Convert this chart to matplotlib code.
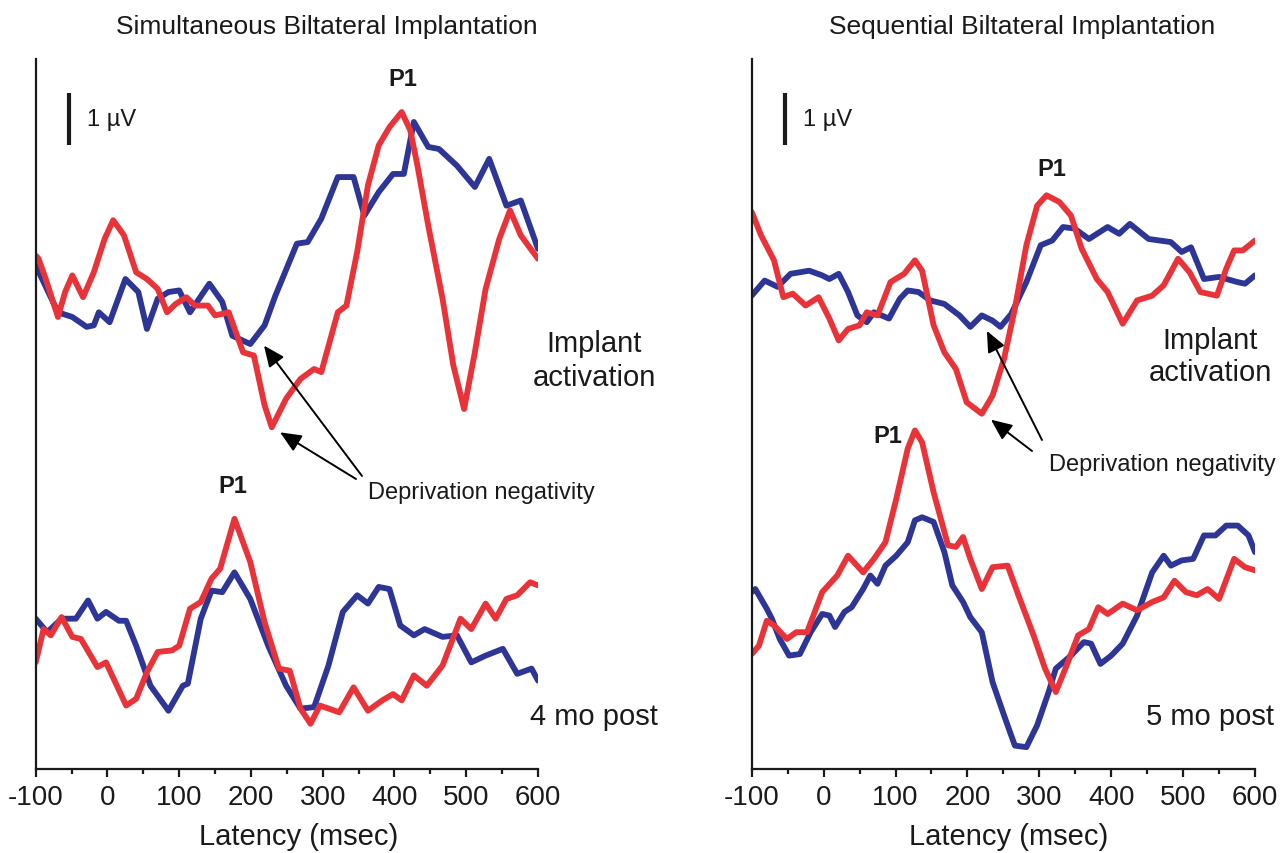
import numpy as np
import matplotlib.pyplot as plt

plt.rcParams['font.family'] = ['Liberation Sans', 'DejaVu Sans']
plt.rcParams['axes.unicode_minus'] = False

RED = "#e93339"
BLUE = "#2d3597"
INK = "#1a1a1a"

# ---------- data (latency in ms, amplitude in uV relative to each trace's baseline) ----------
# Simultaneous, implant activation
sim_act_blue_t = [-100, -69, -49, -29, -19, -12, 3, 25, 43, 55, 70, 85, 100, 115, 142, 160, 174, 199, 219, 234,
                  264, 279, 298, 321, 343, 358, 378, 398, 413, 427, 447, 462, 487, 512, 532, 556, 576, 600]
sim_act_blue_v = [0.64, -0.26, -0.35, -0.54, -0.51, -0.26, -0.45, 0.38, 0.13, -0.58, 0.0, 0.13, 0.16, -0.26, 0.29,
                  -0.06, -0.71, -0.87, -0.51, 0.06, 1.06, 1.09, 1.54, 2.34, 2.34, 1.60, 2.05, 2.40, 2.40, 3.40,
                  2.92, 2.88, 2.56, 2.15, 2.69, 1.79, 1.89, 0.96]
sim_act_red_t = [-100, -96, -86, -69, -59, -49, -34, -19, -4, 8, 23, 40, 55, 70, 83, 95, 110, 122, 140, 150, 169,
                 189, 204, 219, 229, 249, 269, 288, 298, 321, 333, 348, 363, 378, 393, 410, 422, 432, 447, 467,
                 482, 497, 512, 527, 546, 561, 576, 586, 600]
sim_act_red_v = [0.83, 0.77, 0.38, -0.35, 0.13, 0.45, 0.03, 0.51, 1.15, 1.51, 1.22, 0.51, 0.38, 0.19, -0.26, -0.10,
                 0.03, -0.13, -0.13, -0.32, -0.26, -1.03, -1.09, -2.05, -2.47, -1.92, -1.54, -1.35, -1.41, -0.26,
                 -0.13, 0.90, 2.18, 2.95, 3.30, 3.59, 3.24, 2.56, 1.41, 0.0, -1.28, -2.12, -1.03, 0.19, 1.15,
                 1.70, 1.22, 1.03, 0.77]

# Simultaneous, 4 mo post
sim_post_blue_t = [-100, -84, -64, -44, -27, -14, -2, 16, 26, 40, 60, 85, 105, 112, 130, 145, 160, 177, 199, 224,
                   249, 269, 288, 308, 328, 348, 363, 378, 393, 408, 427, 442, 467, 487, 507, 527, 551, 571, 591, 600]
sim_post_blue_v = [0.58, 0.32, 0.58, 0.58, 0.93, 0.58, 0.71, 0.54, 0.54, 0.06, -0.71, -1.19, -0.71, -0.67, 0.58,
                   1.12, 1.09, 1.47, 0.96, 0.06, -0.71, -1.15, -1.12, -0.32, 0.71, 1.03, 0.87, 1.19, 1.15, 0.45,
                   0.26, 0.38, 0.23, 0.26, -0.26, -0.13, 0.0, -0.48, -0.38, -0.61]
sim_post_red_t = [-100, -89, -79, -64, -49, -37, -14, -2, 26, 40, 55, 70, 90, 100, 115, 130, 145, 157, 177, 199,
                  219, 239, 254, 269, 283, 296, 323, 343, 363, 383, 398, 410, 427, 445, 467, 492, 507, 527, 541,
                  556, 571, 589, 600]
sim_post_red_v = [-0.26, 0.38, 0.26, 0.61, 0.23, 0.19, -0.35, -0.26, -1.09, -0.96, -0.45, -0.06, -0.03, 0.06, 0.77,
                  0.90, 1.35, 1.54, 2.50, 1.67, 0.51, -0.38, -0.42, -1.15, -1.44, -1.09, -1.22, -0.74, -1.19,
                  -0.99, -0.87, -0.99, -0.51, -0.71, -0.32, 0.58, 0.38, 0.87, 0.58, 0.96, 1.03, 1.28, 1.22]

# Sequential, implant activation
seq_act_blue_t = [-100, -82, -64, -46, -20, -2, 8, 21, 34, 47, 60, 70, 91, 106, 117, 132, 148, 168, 189, 204, 220,
                  235, 246, 261, 282, 302, 318, 333, 349, 369, 395, 411, 426, 452, 483, 498, 511, 529, 550, 576,
                  586, 600]
seq_act_blue_v = [0.06, 0.35, 0.23, 0.48, 0.54, 0.45, 0.38, 0.48, 0.13, -0.32, -0.45, -0.26, -0.38, 0.0, 0.16, 0.13,
                  -0.03, -0.10, -0.32, -0.54, -0.32, -0.42, -0.54, -0.29, 0.32, 1.03, 1.12, 1.38, 1.35, 1.15,
                  1.38, 1.25, 1.44, 1.15, 1.09, 0.90, 0.99, 0.38, 0.42, 0.32, 0.29, 0.45]
seq_act_red_t = [-100, -87, -69, -56, -43, -25, -7, 8, 21, 34, 50, 60, 75, 93, 112, 127, 137, 153, 168, 184, 199,
                 220, 235, 251, 266, 282, 297, 310, 328, 344, 359, 380, 395, 416, 436, 457, 473, 493, 509, 524,
                 547, 560, 571, 583, 600]
seq_act_red_v = [1.67, 1.22, 0.74, 0.03, 0.10, -0.13, 0.03, -0.38, -0.80, -0.58, -0.51, -0.26, -0.32, 0.32, 0.48,
                 0.74, 0.54, -0.51, -1.03, -1.35, -1.99, -2.21, -1.86, -1.15, -0.19, 1.03, 1.79, 1.99, 1.86,
                 1.60, 0.96, 0.38, 0.13, -0.48, -0.03, 0.06, 0.26, 0.77, 0.51, 0.13, 0.06, 0.58, 0.93, 0.93, 1.12]

# Sequential, 5 mo post
seq_post_blue_t = [-100, -95, -79, -72, -61, -48, -33, -18, -2, 8, 16, 29, 39, 55, 65, 75, 86, 101, 117, 127, 137,
                   153, 168, 179, 194, 204, 220, 235, 251, 266, 282, 297, 313, 323, 344, 362, 372, 385, 400, 416,
                   436, 457, 473, 483, 498, 514, 529, 545, 560, 576, 591, 600]
seq_post_blue_v = [1.09, 1.15, 0.77, 0.58, 0.19, -0.13, -0.10, 0.32, 0.67, 0.64, 0.42, 0.71, 0.80, 1.15, 1.41, 1.25,
                   1.60, 1.79, 2.05, 2.47, 2.53, 2.44, 1.86, 1.22, 0.90, 0.61, 0.32, -0.64, -1.28, -1.86, -1.89,
                   -1.47, -0.83, -0.38, -0.13, 0.13, 0.10, -0.29, -0.13, 0.10, 0.64, 1.47, 1.79, 1.60, 1.70, 1.73,
                   2.18, 2.18, 2.37, 2.37, 2.18, 1.86]
seq_post_red_t = [-100, -90, -79, -69, -51, -38, -23, -2, 19, 34, 55, 70, 86, 101, 117, 127, 137, 153, 173, 184,
                  194, 204, 220, 235, 256, 271, 292, 308, 323, 338, 354, 369, 382, 395, 416, 436, 457, 473, 488,
                  504, 519, 534, 550, 571, 586, 600]
seq_post_red_v = [-0.10, 0.06, 0.54, 0.45, 0.19, 0.32, 0.32, 1.09, 1.41, 1.79, 1.47, 1.73, 2.05, 2.88, 3.85, 4.20,
                  3.97, 3.01, 1.99, 1.96, 2.15, 1.73, 1.15, 1.57, 1.60, 1.03, 0.26, -0.38, -0.83, -0.32, 0.26,
                  0.38, 0.80, 0.67, 0.87, 0.74, 0.90, 0.99, 1.31, 1.09, 1.03, 1.15, 0.96, 1.73, 1.57, 1.51]

xticks = [-100, 0, 100, 200, 300, 400, 500, 600]

# vertical placement of the two trace pairs (uV above the x axis)
TOP_BASE = 9.04
BOT_BASE = 2.31
YMAX = 13.65

W, H = 1282, 854
fig = plt.figure(figsize=(W / 100, H / 100), dpi=100)


def fx(px):
    return px / W


def fy(py):
    return 1 - py / H


def trace(ax, t, v, base, color):
    ax.plot(t, np.array(v) + base, color=color, lw=4.2,
            solid_joinstyle="round", solid_capstyle="round")


def panel(left_px, width_px, title, title_x, act, post, label_x, act_y, act_spacing, post_label,
          p1_top, p1_bot, dep_xy, dep_targets, xlabel_x):
    ax = fig.add_axes([fx(left_px), fy(770), width_px / W, 710 / H])
    ax.set_xlim(-100, 600)
    ax.set_ylim(0, YMAX)
    (bt, bv), (rt, rv) = act
    trace(ax, bt, bv, TOP_BASE, BLUE)
    trace(ax, rt, rv, TOP_BASE, RED)
    (bt, bv), (rt, rv) = post
    trace(ax, bt, bv, BOT_BASE, BLUE)
    trace(ax, rt, rv, BOT_BASE, RED)

    for s in ["top", "right"]:
        ax.spines[s].set_visible(False)
    ax.spines["left"].set_linewidth(1.6)
    ax.spines["bottom"].set_linewidth(1.6)
    ax.spines["left"].set_color(INK)
    ax.spines["bottom"].set_color(INK)
    ax.set_yticks([])
    ax.set_xticks(xticks)
    ax.set_xticks([-50, 50, 150, 250, 350, 450, 550], minor=True)
    ax.tick_params(axis="x", which="major", direction="out", length=6, width=1.6, labelsize=20, pad=5,
                   colors=INK)
    ax.tick_params(axis="x", which="minor", direction="out", length=3.5, width=1.6, colors=INK)
    ax.set_xlabel("Latency (msec)", fontsize=21, color=INK)
    ax.xaxis.set_label_coords(xlabel_x, -0.075)
    ax.patch.set_alpha(0)

    # 1 uV scale bar
    ax.plot([-53, -53], [12.0, 13.0], color=INK, lw=3, solid_capstyle="butt")
    ax.text(-29, 12.5, "1 \u00b5V", fontsize=17, va="center", ha="left", color=INK)

    fig.text(fx(title_x), fy(27), title, fontsize=19, ha="center", va="center", color=INK)
    fig.text(fx(p1_top[0]), fy(p1_top[1]), "P1", fontsize=17, fontweight="bold", ha="center", va="center",
             color=INK)
    fig.text(fx(p1_bot[0]), fy(p1_bot[1]), "P1", fontsize=17, fontweight="bold", ha="center", va="center",
             color=INK)

    fig.text(fx(label_x), fy(act_y), "Implant\nactivation", fontsize=21, ha="center", va="center",
             linespacing=act_spacing, color=INK)
    fig.text(fx(label_x), fy(717), post_label, fontsize=21, ha="center", va="center", color=INK)

    fig.text(fx(dep_xy[0]), fy(dep_xy[1]), "Deprivation negativity", fontsize=17, ha="left", va="center",
             color=INK)
    for (ms, v), tail in dep_targets:
        ax.annotate("", xy=(ms, v), xycoords="data",
                    xytext=(fx(tail[0]), fy(tail[1])), textcoords="figure fraction",
                    arrowprops=dict(arrowstyle="-|>,head_length=0.8,head_width=0.35", color="black", lw=1.4,
                                    mutation_scale=16, shrinkA=0, shrinkB=7))
    return ax


panel(35.7, 502.3, "Simultaneous Biltateral Implantation", 327,
      ((sim_act_blue_t, sim_act_blue_v), (sim_act_red_t, sim_act_red_v)),
      ((sim_post_blue_t, sim_post_blue_v), (sim_post_red_t, sim_post_red_v)),
      594, 361, 1.3, "4 mo post", (403, 80), (233, 487),
      (368, 493),
      [((210, TOP_BASE - 0.75), (362, 477)), ((229, TOP_BASE - 2.47), (356, 480))],
      0.524)

panel(751.7, 503.3, "Sequential Biltateral Implantation", 1022,
      ((seq_act_blue_t, seq_act_blue_v), (seq_act_red_t, seq_act_red_v)),
      ((seq_post_blue_t, seq_post_blue_v), (seq_post_red_t, seq_post_red_v)),
      1210, 357, 1.15, "5 mo post", (1052, 170), (888, 437),
      (1049, 465),
      [((221, TOP_BASE - 0.45), (1042, 441)), ((222, TOP_BASE - 2.21), (1032, 452))],
      0.51)

fig.savefig("out.png", dpi=100)
